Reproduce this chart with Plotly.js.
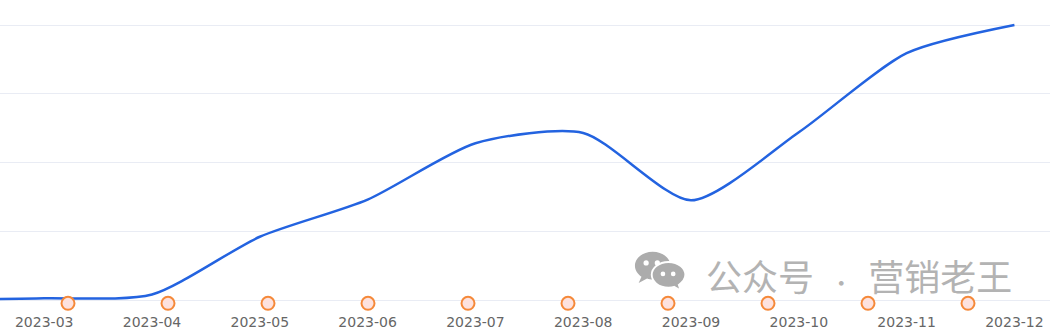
<!DOCTYPE html>
<html>
<head>
<meta charset="utf-8">
<script src="https://cdn.plot.ly/plotly-3.0.1.min.js"></script>
<style>
html,body{margin:0;padding:0;background:#fff;}
#chart{width:1050px;height:332px;}
</style>
</head>
<body>
<div id="chart"></div>
<script>
// ---- data ----
var months = ['2023-02','2023-03','2023-04','2023-05','2023-06','2023-07','2023-08','2023-09','2023-10','2023-11','2023-12'];
var monthIndex = [-1,0,1,2,3,4,5,6,7,8,9];
var values = [0.5,2.5,8,92,146,228,243,145,244,359,400];
var tickLabels = ['2023-03','2023-04','2023-05','2023-06','2023-07','2023-08','2023-09','2023-10','2023-11','2023-12'];
var tickIndex = [0,1,2,3,4,5,6,7,8,9];
var eventSlots = [0,1,2,3,4,5,6,7,8,9];
var eventLevel = [0,0,0,0,0,0,0,0,0,0];
var watermarkLeft = '公众号';
var watermarkRight = '营销老王';

var wechatSvg = '<svg xmlns="http://www.w3.org/2000/svg" width="60" height="50" viewBox="0 0 60 50">' +
  '<path d="M20 2 C9 2 1 9 1 17 C1 22 4 26 8 29 L5 36 L14 31 C16 32 18 32 20 32 C31 32 39 25 39 17 C39 9 31 2 20 2 Z" fill="#acacac"/>' +
  '<circle cx="13" cy="14" r="2.8" fill="#fff"/><circle cx="25" cy="14" r="2.8" fill="#fff"/>' +
  '<path d="M37 13 C26 13 19 20 19 27 C19 34 26 41 37 41 C39 41 41 41 43 40 L50 44 L48 38 C52 35 55 31 55 27 C55 20 48 13 37 13 Z" fill="#acacac" stroke="#fff" stroke-width="2"/>' +
  '<circle cx="31" cy="26" r="2.5" fill="#fff"/><circle cx="42" cy="26" r="2.5" fill="#fff"/>' +
  '</svg>';

var traces = [
  {
    x: monthIndex, y: values, type: 'scatter', mode: 'lines',
    line: {color: '#2363e0', width: 2.5, shape: 'spline', smoothing: 0.7},
    hoverinfo: 'skip', showlegend: false
  },
  {
    x: eventSlots, y: eventLevel, type: 'scatter', mode: 'markers',
    xaxis: 'x2', yaxis: 'y2',
    marker: {size: 13, color: '#fde2df', line: {color: '#f5893a', width: 2}},
    cliponaxis: false, hoverinfo: 'skip', showlegend: false
  }
];

var layout = {
  width: 1050, height: 332,
  margin: {l: 0, r: 0, t: 0, b: 20, pad: 0},
  paper_bgcolor: '#ffffff', plot_bgcolor: '#ffffff',
  showlegend: false,
  xaxis: {
    range: [-0.41, 9.33], tickmode: 'array', tickvals: tickIndex, ticktext: tickLabels,
    showgrid: false, zeroline: false, showline: false, ticks: '',
    tickfont: {family: 'DejaVu Sans, sans-serif', size: 14, color: '#666666'},
    fixedrange: true
  },
  yaxis: {
    range: [-17.45, 436.4], tickmode: 'array', tickvals: [0,100,200,300,400],
    showticklabels: false, showgrid: true, gridcolor: '#e9ecf4', gridwidth: 1,
    zeroline: false, showline: false, ticks: '', fixedrange: true
  },
  xaxis2: {overlaying: 'x', range: [-0.68, 9.82], visible: false, fixedrange: true},
  yaxis2: {overlaying: 'y', range: [-8.7, 303.3], visible: false, fixedrange: true},
  images: [{
    source: 'data:image/svg+xml;charset=utf-8,' + encodeURIComponent(wechatSvg),
    xref: 'paper', yref: 'paper',
    x: 634/1050, y: 1 - 250/312, sizex: 56/1050, sizey: 46/312,
    xanchor: 'left', yanchor: 'top', sizing: 'stretch', layer: 'above'
  }],
  annotations: [{
    text: watermarkLeft + '&nbsp;&nbsp;<span style="font-size:22px">·</span>&nbsp;&nbsp;' + watermarkRight,
    xref: 'paper', yref: 'paper',
    x: 704/1050, y: 1 - 275/312, xanchor: 'left', yanchor: 'middle',
    showarrow: false,
    font: {family: 'Noto Sans CJK SC, sans-serif', size: 36, color: '#b3b3b3'}
  }]
};

Plotly.newPlot('chart', traces, layout, {displayModeBar: false, staticPlot: true});
</script>
</body>
</html>
